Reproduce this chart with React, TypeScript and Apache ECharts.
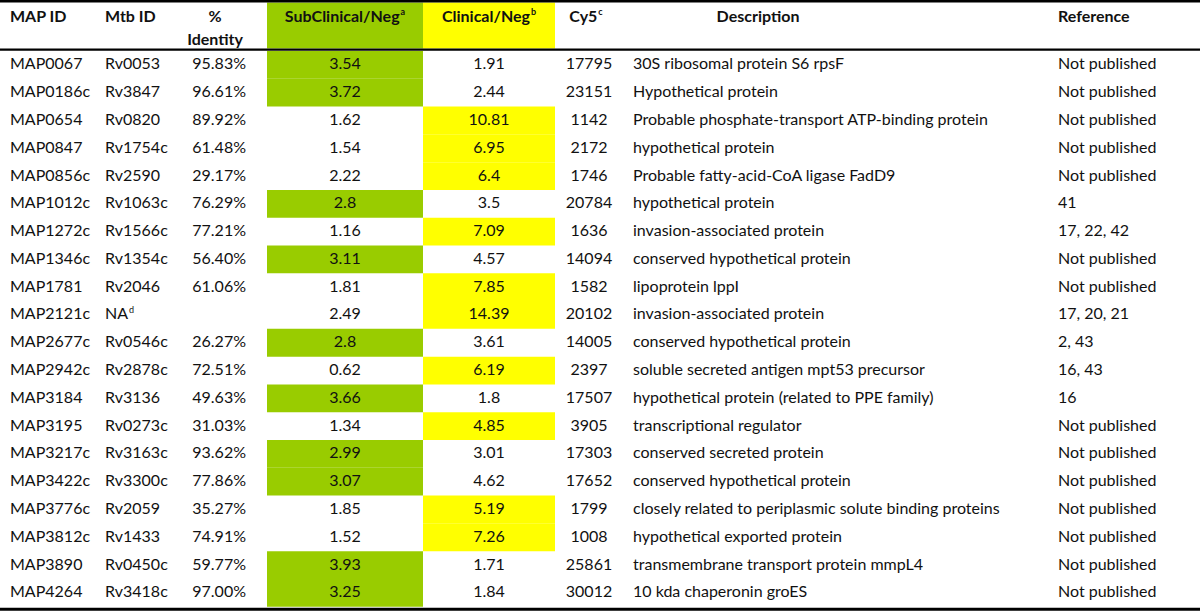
import React, { useEffect, useRef } from "react";
import * as echarts from "echarts";

// ---------- DATA ----------
const mapIds = [
  "MAP0067", "MAP0186c", "MAP0654", "MAP0847", "MAP0856c", "MAP1012c", "MAP1272c",
  "MAP1346c", "MAP1781", "MAP2121c", "MAP2677c", "MAP2942c", "MAP3184", "MAP3195",
  "MAP3217c", "MAP3422c", "MAP3776c", "MAP3812c", "MAP3890", "MAP4264",
];
const mtbIds = [
  "Rv0053", "Rv3847", "Rv0820", "Rv1754c", "Rv2590", "Rv1063c", "Rv1566c",
  "Rv1354c", "Rv2046", "NA", "Rv0546c", "Rv2878c", "Rv3136", "Rv0273c",
  "Rv3163c", "Rv3300c", "Rv2059", "Rv1433", "Rv0450c", "Rv3418c",
];
const mtbFootnotes = ["", "", "", "", "", "", "", "", "", "d", "", "", "", "", "", "", "", "", "", ""];
const identity: (number | null)[] = [
  95.83, 96.61, 89.92, 61.48, 29.17, 76.29, 77.21, 56.4, 61.06, null,
  26.27, 72.51, 49.63, 31.03, 93.62, 77.86, 35.27, 74.91, 59.77, 97.0,
];
const subClinical = [
  3.54, 3.72, 1.62, 1.54, 2.22, 2.8, 1.16, 3.11, 1.81, 2.49,
  2.8, 0.62, 3.66, 1.34, 2.99, 3.07, 1.85, 1.52, 3.93, 3.25,
];
const clinical = [
  1.91, 2.44, 10.81, 6.95, 6.4, 3.5, 7.09, 4.57, 7.85, 14.39,
  3.61, 6.19, 1.8, 4.85, 3.01, 4.62, 5.19, 7.26, 1.71, 1.84,
];
const cy5 = [
  17795, 23151, 1142, 2172, 1746, 20784, 1636, 14094, 1582, 20102,
  14005, 2397, 17507, 3905, 17303, 17652, 1799, 1008, 25861, 30012,
];
const descriptions = [
  "30S ribosomal protein S6 rpsF",
  "Hypothetical protein",
  "Probable phosphate-transport ATP-binding protein",
  "hypothetical protein",
  "Probable fatty-acid-CoA ligase FadD9",
  "hypothetical protein",
  "invasion-associated protein",
  "conserved hypothetical protein",
  "lipoprotein lppI",
  "invasion-associated protein",
  "conserved hypothetical protein",
  "soluble secreted antigen mpt53 precursor",
  "hypothetical protein (related to PPE family)",
  "transcriptional regulator",
  "conserved secreted protein",
  "conserved hypothetical protein",
  "closely related to periplasmic solute binding proteins",
  "hypothetical exported protein",
  "transmembrane transport protein mmpL4",
  "10 kda chaperonin groES",
];
const references = [
  "Not published", "Not published", "Not published", "Not published", "Not published",
  "41", "17, 22, 42", "Not published", "Not published", "17, 20, 21",
  "2, 43", "16, 43", "16", "Not published", "Not published",
  "Not published", "Not published", "Not published", "Not published", "Not published",
];
const subHighlighted = [
  true, true, false, false, false, true, false, true, false, false,
  true, false, true, false, true, true, false, false, true, true,
];
const clinHighlighted = [
  false, false, true, true, true, false, true, false, true, true,
  false, true, false, true, false, false, true, true, false, false,
];

// ---------- LAYOUT / STYLE ----------
const W = 1200;
const H = 611;
const FONT = "Lato, 'Open Sans', sans-serif";
const FS = 16;
const TEXT = "#111";
const GREEN = "#99cc00";
const YELLOW = "#ffff00";
const COL = {
  mapX: 10,
  mtbX: 105,
  idRight: 246,
  idCenter: 215,
  subL: 267,
  subR: 423,
  clinL: 423,
  clinR: 555,
  cy5Center: 589,
  descX: 633,
  descHeaderCenter: 758,
  refX: 1058,
};
const ROWS_TOP = 51;
const ROWS_BOTTOM = 606.7;

const fmtNum = (v: number) => String(v);

export default function App() {
  const ref = useRef<HTMLDivElement>(null);

  useEffect(() => {
    if (!ref.current) return;
    const chart = echarts.init(ref.current, undefined, { renderer: "svg" });

    const base = { fontFamily: FONT, fontSize: FS, fill: TEXT };
    const rich = {
      n: { fontFamily: FONT, fontSize: FS, color: TEXT },
      b: { fontFamily: FONT, fontSize: FS, color: TEXT, fontWeight: "bold" as const },
      s: { fontFamily: FONT, fontSize: 9, color: TEXT, verticalAlign: "top" as const, padding: [0, 0, 0, 1] },
      sb: { fontFamily: FONT, fontSize: 9, color: TEXT, fontWeight: "bold" as const, verticalAlign: "top" as const, padding: [0, 0, 0, 1] },
    };

    const headerY = 15;
    const headerText = (text: string, x: number, y: number, align: "left" | "center" | "right") => ({
      type: "text",
      x,
      y,
      style: { text, rich, align, verticalAlign: "middle", font: `bold ${FS}px ${FONT}`, fill: TEXT },
      silent: true,
    });

    const rowIndex = mapIds.map((_, i) => i);

    const option: any = {
      animation: false,
      grid: { left: 0, right: 0, top: ROWS_TOP, bottom: H - ROWS_BOTTOM, containLabel: false },
      xAxis: { type: "value", min: 0, max: W, show: false },
      yAxis: { type: "category", data: mapIds, inverse: true, show: false },
      graphic: [
        // header fills
        { type: "rect", shape: { x: COL.subL, y: 2.5, width: COL.subR - COL.subL, height: 46 }, style: { fill: GREEN }, silent: true },
        { type: "rect", shape: { x: COL.clinL, y: 2.5, width: COL.clinR - COL.clinL, height: 46 }, style: { fill: YELLOW }, silent: true },
        // rules
        { type: "line", shape: { x1: 0, y1: 1.2, x2: W, y2: 1.2 }, style: { stroke: "#000", lineWidth: 2.5 }, silent: true },
        { type: "line", shape: { x1: 0, y1: 49.7, x2: W, y2: 49.7 }, style: { stroke: "#000", lineWidth: 2.2 }, silent: true },
        { type: "line", shape: { x1: 0, y1: 609.3, x2: W, y2: 609.3 }, style: { stroke: "#000", lineWidth: 3 }, silent: true },
        // header texts
        headerText("{b|MAP ID}", COL.mapX, headerY, "left"),
        headerText("{b|Mtb ID}", COL.mtbX, headerY, "left"),
        headerText("{b|%}", COL.idCenter, headerY, "center"),
        headerText("{b|Identity}", COL.idCenter, 38, "center"),
        headerText("{b|SubClinical/Neg}{sb|a}", (COL.subL + COL.subR) / 2, headerY, "center"),
        headerText("{b|Clinical/Neg}{sb|b}", (COL.clinL + COL.clinR) / 2, headerY, "center"),
        headerText("{b|Cy5}{sb|c}", COL.cy5Center - 3, headerY, "center"),
        headerText("{b|Description}", COL.descHeaderCenter, headerY, "center"),
        headerText("{b|Reference}", COL.refX, headerY, "left"),
      ],
      series: [
        {
          type: "custom",
          coordinateSystem: "cartesian2d",
          data: rowIndex.map((i) => [0, i]),
          encode: { x: 0, y: 1 },
          renderItem: (params: any, api: any) => {
            const i = api.value(1) as number;
            const cy = api.coord([0, i])[1];
            const h = api.size([0, 1])[1];
            const top = cy - h / 2;
            const ty = cy - 2;
            const px = (v: number) => api.coord([v, i])[0];
            const children: any[] = [];
            if (subHighlighted[i]) {
              children.push({ type: "rect", shape: { x: px(COL.subL), y: top, width: px(COL.subR) - px(COL.subL), height: h }, style: { fill: GREEN } });
            }
            if (clinHighlighted[i]) {
              children.push({ type: "rect", shape: { x: px(COL.clinL), y: top, width: px(COL.clinR) - px(COL.clinL), height: h }, style: { fill: YELLOW } });
            }
            const t = (text: string, x: number, align: string, useRich = false) => ({
              type: "text",
              x,
              y: ty,
              style: useRich
                ? { text, rich, align, verticalAlign: "middle", font: `${FS}px ${FONT}`, fill: TEXT }
                : { ...base, text, align, verticalAlign: "middle" },
            });
            children.push(t(mapIds[i], px(COL.mapX), "left"));
            if (mtbFootnotes[i]) {
              children.push(t(`{n|${mtbIds[i]}}{s|${mtbFootnotes[i]}}`, px(COL.mtbX), "left", true));
            } else {
              children.push(t(mtbIds[i], px(COL.mtbX), "left"));
            }
            const idv = identity[i];
            if (idv !== null) children.push(t(idv.toFixed(2) + "%", px(COL.idRight), "right"));
            children.push(t(fmtNum(subClinical[i]), px((COL.subL + COL.subR) / 2), "center"));
            children.push(t(fmtNum(clinical[i]), px((COL.clinL + COL.clinR) / 2), "center"));
            children.push(t(String(cy5[i]), px(COL.cy5Center), "center"));
            children.push(t(descriptions[i], px(COL.descX), "left"));
            children.push(t(references[i], px(COL.refX), "left"));
            return { type: "group", children };
          },
        },
      ],
    };

    chart.setOption(option);
    return () => chart.dispose();
  }, []);

  return (
    <div
      ref={ref}
      style={{ position: "fixed", left: 0, top: 0, width: W, height: H, background: "#fff" }}
    />
  );
}
